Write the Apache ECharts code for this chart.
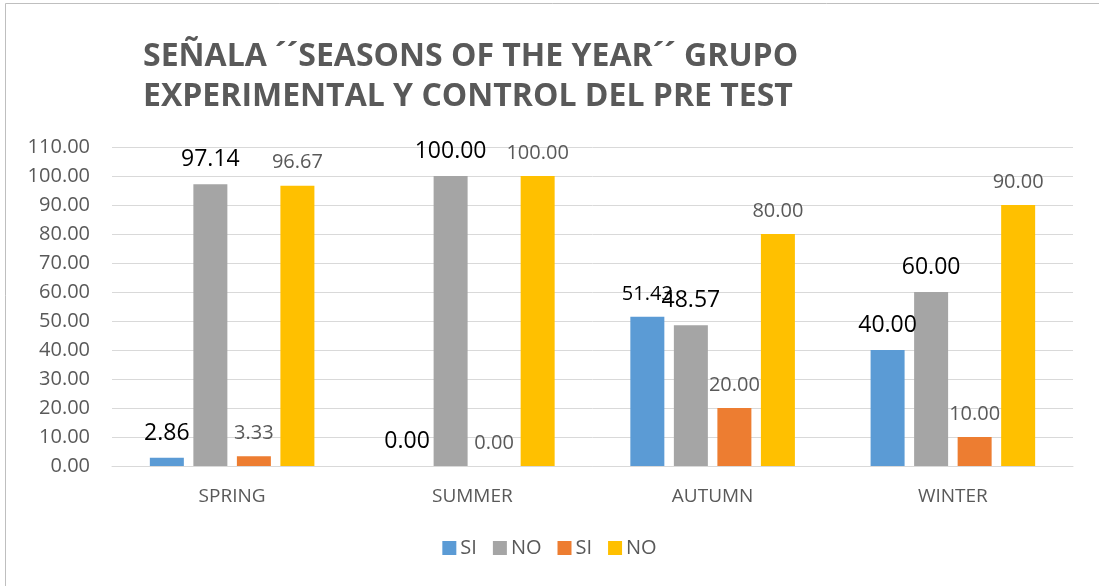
<!DOCTYPE html>
<html><head><meta charset="utf-8">
<script src="https://cdn.jsdelivr.net/npm/echarts@6/dist/echarts.min.js"></script>
<style>html,body{margin:0;padding:0;background:#fff}#c{width:1099px;height:586px}</style>
</head><body><div id="c"></div>
<script>
var categories = ['SPRING', 'SUMMER', 'AUTUMN', 'WINTER'];
var seriesNames = ['SI', 'NO', 'SI', 'NO'];
var siExp = [2.86, 0.00, 51.43, 40.00];
var noExp = [97.14, 100.00, 48.57, 60.00];
var siCtl = [3.33, 0.00, 20.00, 10.00];
var noCtl = [96.67, 100.00, 80.00, 90.00];
var yTicks = [0, 110, 10];

var FONT = '"Open Sans", sans-serif';
var colors = ['#5B9BD5', '#A5A5A5', '#ED7D31', '#FFC000'];
// label style per series/point: 'big' black, 'mid' black, 'small' gray
var labelKinds = [
  ['big', 'big', 'mid', 'big'],
  ['big', 'big', 'big', 'big'],
  ['small', 'small', 'small', 'small'],
  ['small', 'small', 'small', 'small']
];
var kindStyle = {
  big: { fontSize: 23, color: '#000000' },
  mid: { fontSize: 20, color: '#000000' },
  small: { fontSize: 20, color: '#595959' }
};
var allData = [siExp, noExp, siCtl, noCtl];
// unique internal keys so the legend shows all four entries
var keys = seriesNames.map(function (n, i) { return n + '\u200b'.repeat(i); });

var series = allData.map(function (arr, si) {
  return {
    name: keys[si],
    type: 'bar',
    barWidth: 34,
    barGap: '28%',
    itemStyle: { color: colors[si] },
    data: arr.map(function (v, i) {
      var k = kindStyle[labelKinds[si][i]];
      return {
        value: v,
        label: { show: true, position: 'top', distance: 13, fontFamily: FONT,
          fontSize: k.fontSize, color: k.color,
          formatter: function (p) { return p.value.toFixed(2); } }
      };
    })
  };
});

var chart = echarts.init(document.getElementById('c'));
chart.setOption({
  animation: false,
  color: colors,
  graphic: [{ type: 'rect', shape: { x: 5.5, y: 3.5, width: 1200, height: 700 },
    style: { fill: 'none', stroke: '#bfbfbf', lineWidth: 1 }, silent: true }],
  title: {
    text: 'SEÑALA ´´SEASONS OF THE YEAR´´ GRUPO\nEXPERIMENTAL Y CONTROL DEL PRE TEST',
    left: 138, top: 32,
    textStyle: { fontFamily: FONT, fontWeight: 'bold', fontSize: 32, color: '#595959', lineHeight: 40 }
  },
  legend: {
    bottom: 23, left: 'center', itemWidth: 14, itemHeight: 14, itemGap: 16,
    icon: 'rect',
    textStyle: { fontFamily: FONT, fontSize: 20, color: '#595959', padding: [0, 0, 0, -1] },
    formatter: function (n) { return n.replace(/\u200b/g, ''); },
    data: keys.map(function (n, i) { return { name: n, itemStyle: { color: colors[i] } }; })
  },
  grid: { left: 112, right: 26, top: 147, bottom: 120, containLabel: false },
  xAxis: {
    type: 'category', data: categories,
    axisLine: { lineStyle: { color: '#d9d9d9', width: 1 } },
    axisTick: { show: false },
    axisLabel: { fontFamily: FONT, fontSize: 19, color: '#595959', margin: 21 }
  },
  yAxis: {
    type: 'value', min: yTicks[0], max: yTicks[1], interval: yTicks[2],
    axisLine: { show: false }, axisTick: { show: false },
    splitLine: { lineStyle: { color: '#d9d9d9', width: 1 } },
    axisLabel: { fontFamily: FONT, fontSize: 20, color: '#595959', margin: 22,
      formatter: function (v) { return v.toFixed(2); } }
  },
  series: series
});
</script></body></html>
